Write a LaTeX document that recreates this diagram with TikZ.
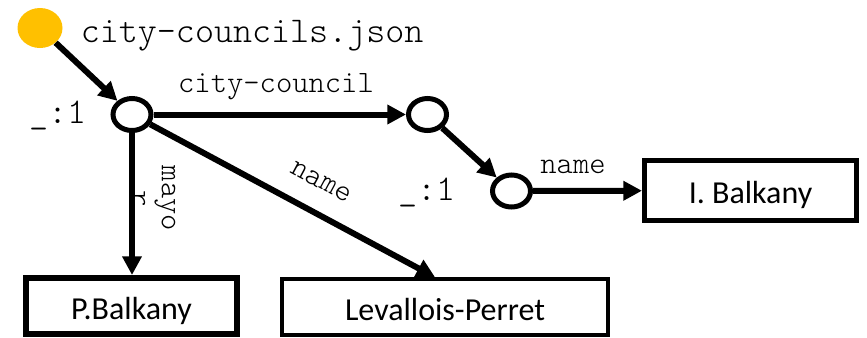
\documentclass[tikz,border=0pt]{standalone}
\usepackage{fontspec}
\newfontfamily\boxfont{Carlito}
\newfontfamily\codefont{Latin Modern Mono Light}
\usetikzlibrary{shapes.geometric,arrows.meta,calc}
\definecolor{rootyellow}{HTML}{FFC000}

\begin{document}
\begin{tikzpicture}[x=0.75pt,y=-0.75pt,
  blank/.style={ellipse, draw, line width=3.75pt, fill=white,
    minimum width=28.5pt, minimum height=24pt, inner sep=0pt},
  root/.style={ellipse, fill=rootyellow, minimum width=33.75pt,
    minimum height=30pt, inner sep=0pt},
  edge/.style={line width=4.5pt, -{Triangle[length=14pt,width=14pt]}},
  valbox/.style={rectangle, draw, inner sep=0pt,
    font=\boxfont\fontsize{24}{28}\selectfont,
    text height=19.5pt, text depth=0pt},
  bigtt/.style={font=\codefont\fontsize{27.2}{30}\selectfont, inner sep=0pt},
  lbl/.style={font=\codefont\fontsize{23.3}{22.5}\selectfont, inner sep=0pt},
]
\useasboundingbox (0,0) rectangle (867,337);
\clip (0,0) rectangle (867,337);

% document root and its name
\node[root] (src) at (40,28) {};
\node[bigtt, anchor=base west] (title) at (80.5,42) {city-councils.json};

% blank nodes
\node[blank] (n1) at (132,114.5) {};
\node[bigtt, anchor=base east] (id1) at (86.5,123) {\_:1};
\node[blank] (n2) at (427.5,114.5) {};
\node[blank] (n3) at (511.5,191) {};
\node[bigtt, anchor=base east] (id3) at (455.5,200) {\_:1};

% literal values
\node[valbox, line width=3.75pt, minimum width=159pt, minimum height=45pt]
  (ib) at (750.5,190.5) {I. Balkany};
\node[valbox, line width=4.5pt, minimum width=158.25pt, minimum height=42pt]
  (pb) at (131.5,306) {P.Balkany};
\node[valbox, line width=2.6pt, minimum width=244.5pt, minimum height=42pt]
  (lv) at (445,307) {Levallois-Perret};

% edge labels
\node[lbl, anchor=base] (lcc) at (276,92) {city-council};
\node[lbl, anchor=base] (lname2) at (573,173) {name};
\node[lbl, rotate=-90, align=center] (lmayor) at (153.7,198.5) {mayo\\r};

% edges
\coordinate (lvtop) at ($(lv.north west)!0.47!(lv.north east)$);
\draw[edge] (src) -- (n1);
\draw[edge] (n1) -- (n2);
\draw[edge] (n2) -- (n3);
\draw[edge] (n3) -- (ib);
\draw[edge] (n1) -- (n1 |- pb.north);
\draw[edge] (n1) -- node[lbl, sloped, above=15.2pt, pos=0.551] (lname) {name} (lvtop);
\end{tikzpicture}
\end{document}
